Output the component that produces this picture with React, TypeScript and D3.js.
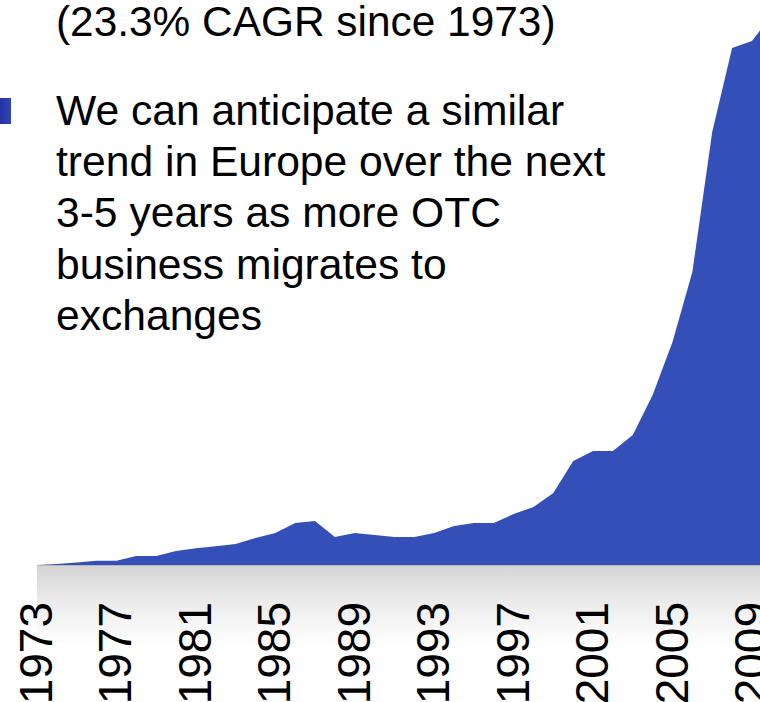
import React from "react";
import * as d3 from "d3";

const years: number[] = [
  1973, 1974, 1975, 1976, 1977, 1978, 1979, 1980, 1981, 1982, 1983, 1984, 1985,
  1986, 1987, 1988, 1989, 1990, 1991, 1992, 1993, 1994, 1995, 1996, 1997, 1998,
  1999, 2000, 2001, 2002, 2003, 2004, 2005, 2006, 2007, 2008, 2009, 2010,
];
// Annual volume (millions of contracts)
const volumes: number[] = [
  0, 6, 15, 26, 26, 54, 54, 84, 100, 112, 126, 162, 192,
  252, 264, 168, 192, 180, 168, 168, 192, 234, 252, 252, 306, 348,
  432, 624, 684, 684, 780, 1020, 1338, 1758, 2598, 3102, 3144, 3300,
];
const tickYears: number[] = [1973, 1977, 1981, 1985, 1989, 1993, 1997, 2001, 2005, 2009];
const headerLine = "(23.3% CAGR since 1973)";
const bulletLines: string[] = [
  "We can anticipate a similar",
  "trend in Europe over the next",
  "3-5 years as more OTC",
  "business migrates to",
  "exchanges",
];

const W = 760;
const H = 702;
const FONT = "'Liberation Sans', Arial, Helvetica, sans-serif";

export default function App() {
  const baseY = 565;
  const x = d3.scaleLinear().domain([1973, 2010]).range([37, 771.8]);
  const y = d3.scaleLinear().domain([0, 3300]).range([baseY, 15]);
  const data = years.map((yr, i) => ({ yr, v: volumes[i] }));
  const area = d3
    .area<{ yr: number; v: number }>()
    .x((d) => x(d.yr))
    .y0(baseY)
    .y1((d) => y(d.v));

  const lineGap = 51.2;
  const bulletBase = 125;

  return (
    <svg
      width={W}
      height={H}
      viewBox={`0 0 ${W} ${H}`}
      style={{ position: "fixed", left: 0, top: 0, background: "#fff" }}
    >
      <defs>
        <linearGradient id="floor" x1="0" y1="0" x2="0" y2="1">
          <stop offset="0" stopColor="#d4d4d4" />
          <stop offset="0.45" stopColor="#ebebeb" />
          <stop offset="1" stopColor="#ffffff" />
        </linearGradient>
        <linearGradient id="bullet" x1="0" y1="0" x2="1" y2="0">
          <stop offset="0" stopColor="#0c1a8c" />
          <stop offset="1" stopColor="#3344b6" />
        </linearGradient>
      </defs>
      <rect x={0} y={0} width={W} height={H} fill="#fff" />
      {/* floor */}
      <rect x={x(1973)} y={baseY} width={W - x(1973)} height={80} fill="url(#floor)" />
      <line x1={x(1973)} x2={W} y1={baseY + 0.5} y2={baseY + 0.5} stroke="#b8b8b8" strokeWidth={1} />
      {/* area */}
      <path d={area(data) || ""} fill="#354fb9" />
      {/* x labels */}
      {tickYears.map((yr) => (
        <text
          key={yr}
          transform={`translate(${x(yr) + 15},602) rotate(-90)`}
          textAnchor="end"
          fontFamily={FONT}
          fontSize={46}
          fill="#000"
        >
          {yr}
        </text>
      ))}
      {/* text block */}
      <text x={56} y={36} fontFamily={FONT} fontSize={42.4} fill="#000">
        {headerLine}
      </text>
      <rect x={-14} y={98} width={25} height={26} fill="url(#bullet)" />
      {bulletLines.map((t, i) => (
        <text
          key={i}
          x={56}
          y={bulletBase + i * lineGap}
          fontFamily={FONT}
          fontSize={42.6}
          fill="#000"
        >
          {t}
        </text>
      ))}
    </svg>
  );
}
